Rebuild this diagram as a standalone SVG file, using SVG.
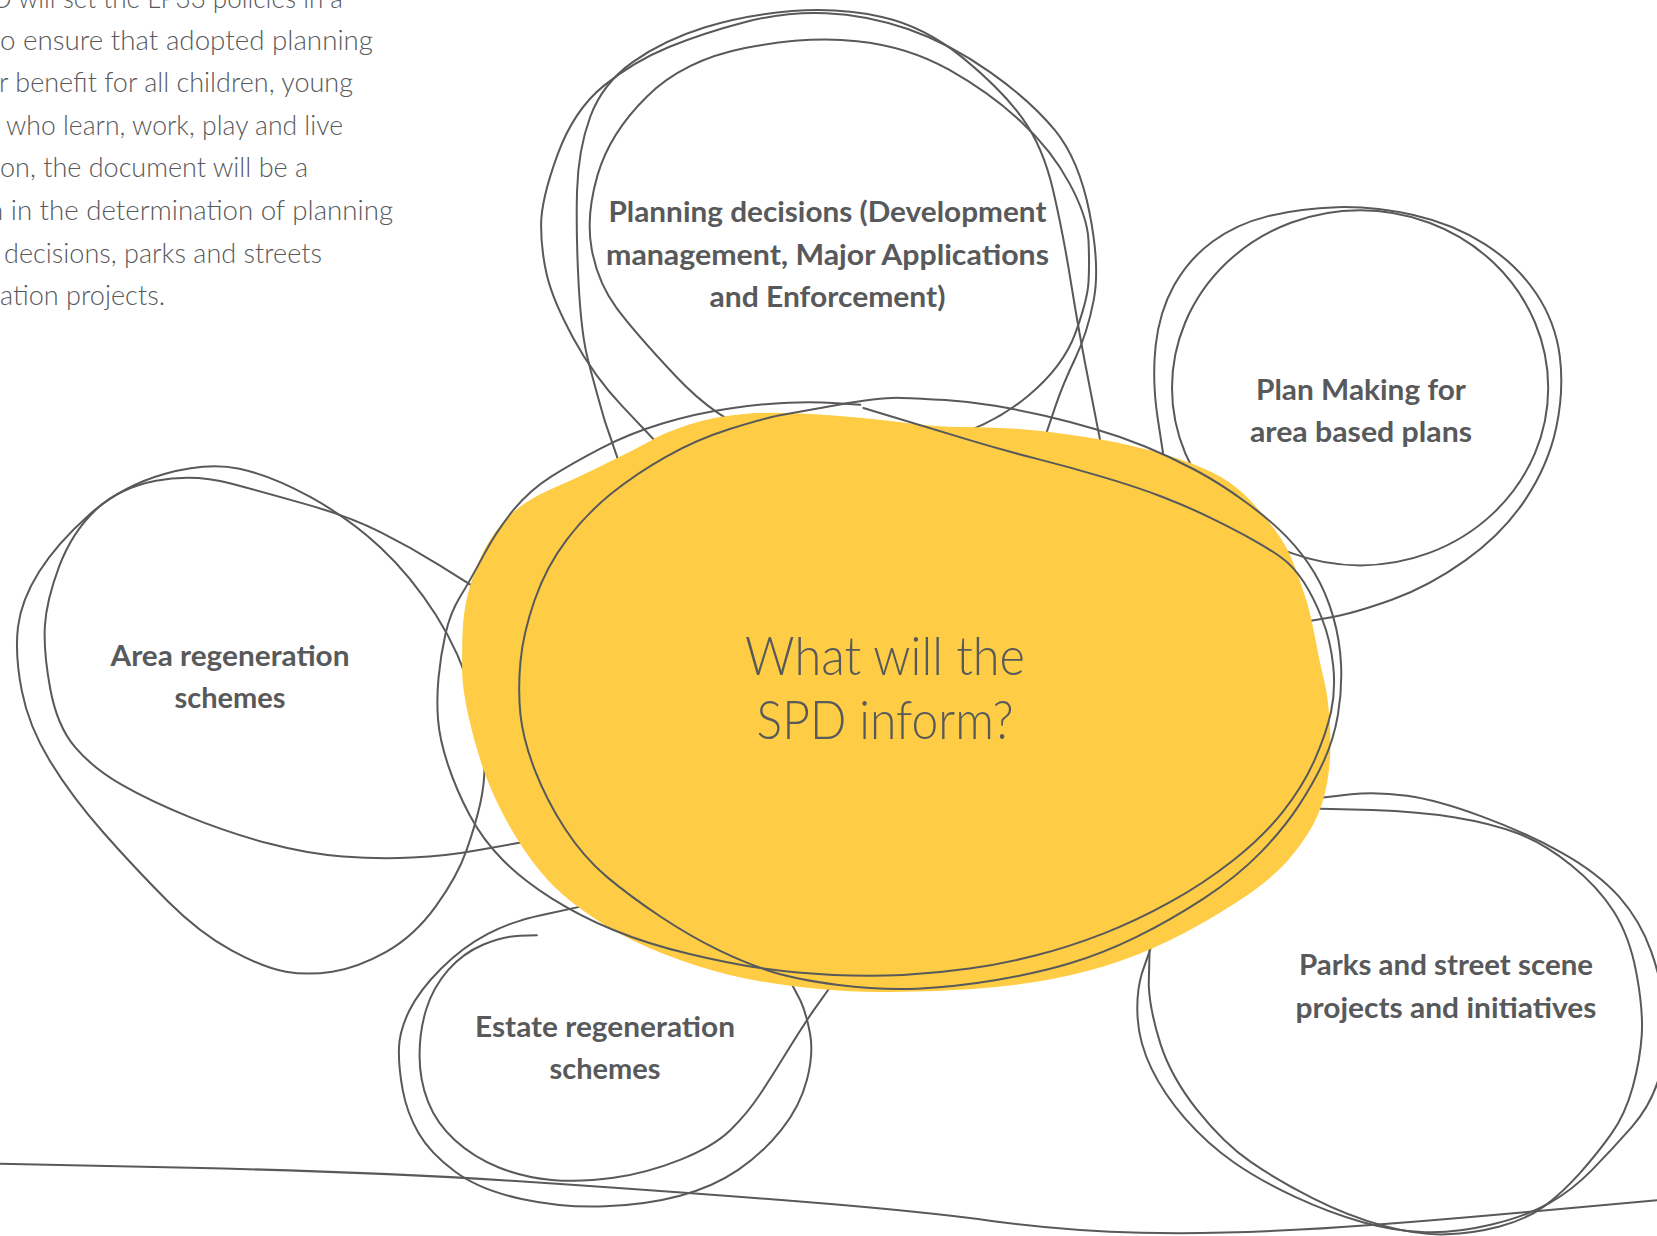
<svg xmlns="http://www.w3.org/2000/svg" width="1657" height="1236" viewBox="0 0 1657 1236">
  <style>
    .ln{fill:none;stroke:#58595b;stroke-width:1.9;stroke-linecap:round;stroke-linejoin:round}
    .lbl{font-family:Lato,"Liberation Sans",sans-serif;font-weight:700;font-size:28px;fill:#58595b;text-anchor:middle}
    .para{font-family:Lato,"Liberation Sans",sans-serif;font-weight:300;font-size:28px;fill:#58595b}
    .hub{font-family:Lato,"Liberation Sans",sans-serif;font-weight:300;font-size:53px;fill:#58595b;text-anchor:middle}
  </style>
  <rect width="1657" height="1236" fill="#ffffff"/>

  <!-- intro paragraph, clipped at the page edge -->
  <g id="intro-text">
    <text class="para" x="-8" y="8" textLength="351" lengthAdjust="spacingAndGlyphs">D will set the LP33 policies in a</text>
    <text class="para" x="0" y="50" textLength="373" lengthAdjust="spacingAndGlyphs">o ensure that adopted planning</text>
    <text class="para" x="-1" y="92" textLength="354" lengthAdjust="spacingAndGlyphs">r benefit for all children, young</text>
    <text class="para" x="6" y="135" textLength="337" lengthAdjust="spacingAndGlyphs">who learn, work, play and live</text>
    <text class="para" x="0" y="177" textLength="308" lengthAdjust="spacingAndGlyphs">on, the document will be a</text>
    <text class="para" x="-12" y="220" textLength="405" lengthAdjust="spacingAndGlyphs">n in the determination of planning</text>
    <text class="para" x="4" y="263" textLength="318" lengthAdjust="spacingAndGlyphs">decisions, parks and streets</text>
    <text class="para" x="0" y="305" textLength="165" lengthAdjust="spacingAndGlyphs">ation projects.</text>
  </g>

  <!-- top bubble -->
  <g id="node-planning">
    <g transform="scale(1.0568)">
      <path class="ln" d="M719,411 Q678,397 639.5,356 Q601,315 583.5,291.5 Q566,268 560,236.5 Q554,205 565.5,165.5 Q577,126 612,91.5 Q647,57 705,45.5 Q763,34 811,39 Q859,44 898,66 Q937,88 966,115 Q995,142 1012,173.5 Q1029,205 1030,227.5 Q1031,250 1030,267 Q1029,284 1017.5,315.5 Q1006,347 973,374.5 Q940,402 895,415 Q850,428 805,426.5 Q760,425 719,411 Z"/>
      <path class="ln" d="M630,428 L589,384.5 Q562,356 542.5,320 Q523,284 517.5,260.5 Q512,237 512,213 Q512,189 527.5,146.5 Q543,104 571.5,81 Q600,58 633,44.5 Q666,31 704.5,21 Q743,11 781.5,12.5 Q820,14 859,27.5 Q898,41 936.5,68 Q975,95 998,123 Q1021,151 1031,201.5 Q1041,252 1035,283.5 Q1029,315 1017.5,339 Q1006,363 998.5,385 L984,428"/>
      <path class="ln" d="M590,450 L572.5,399 Q562,363 556,339 Q550,315 547.5,268 Q545,221 546,181.5 Q547,142 558.5,110.5 Q570,79 599,58.5 Q628,38 666.5,26 Q705,14 749.5,10.5 Q794,7 834.5,16 Q875,25 911.5,55 Q948,85 967.5,112 Q987,139 996.5,180 Q1006,221 1013.5,268 Q1021,315 1031,365.5 L1044,432"/>
    </g>
    <text class="lbl" x="827.5" y="222" textLength="438" lengthAdjust="spacingAndGlyphs">Planning decisions (Development</text>
    <text class="lbl" x="827.5" y="265" textLength="443" lengthAdjust="spacingAndGlyphs">management, Major Applications</text>
    <text class="lbl" x="827.5" y="307" textLength="236" lengthAdjust="spacingAndGlyphs">and Enforcement)</text>
  </g>

  <!-- right bubble -->
  <g id="node-plan-making">
    <g transform="scale(1.0568)">
      <ellipse class="ln" cx="1287" cy="367" rx="178" ry="168"/>
      <path class="ln" d="M1103,445 L1095.5,396 Q1090,360 1093.5,327.5 Q1097,295 1111,270 Q1125,245 1147.5,228.5 Q1170,212 1200,204.5 Q1230,197 1265,196 Q1300,195 1337.5,203.5 Q1375,212 1405,231 Q1435,250 1453.5,277.5 Q1472,305 1476,337.5 Q1480,370 1472.5,405 Q1465,440 1443.5,472.5 Q1422,505 1387,530 Q1352,555 1317,567.5 Q1282,580 1260,584 L1225,590"/>
    </g>
    <text class="lbl" x="1361" y="400" textLength="210" lengthAdjust="spacingAndGlyphs">Plan Making for</text>
    <text class="lbl" x="1361" y="441.5" textLength="222" lengthAdjust="spacingAndGlyphs">area based plans</text>
  </g>

  <!-- left bubble -->
  <g id="node-area">
    <g transform="scale(1.0568)">
      <path class="ln" d="M456,560 L416,535 Q389,518 360,503.5 Q331,489 292.5,478 Q254,467 218.5,457.5 Q183,448 147.5,455 Q112,462 90,483 Q68,504 56,536 Q44,568 42.5,592 Q41,616 47.5,651.5 Q54,687 71,707 Q88,727 115,742.5 Q142,758 179,773 Q216,788 253.5,798 Q291,808 324.5,810.5 Q358,813 390,811.5 Q422,810 454.5,804 L500,796"/>
      <path class="ln" d="M155.5,448.5 Q196,437 226.5,443.5 Q257,450 294,470.5 Q331,491 360,518 Q389,545 412.5,582 Q436,619 447,659.5 Q458,700 458.5,720 Q459,740 454.5,760 Q450,780 441.5,804.5 Q433,829 412.5,857.5 Q392,886 365,901 Q338,916 314.5,919.5 Q291,923 270.5,919.5 Q250,916 219.5,899.5 Q189,883 158.5,852.5 Q128,822 98,788 Q68,754 47.5,720.5 Q27,687 20.5,653 Q14,619 17,593.5 Q20,568 37,541 Q54,514 84.5,487 Q115,460 155.5,448.5 Z"/>
    </g>
    <text class="lbl" x="230" y="666" textLength="239" lengthAdjust="spacingAndGlyphs">Area regeneration</text>
    <text class="lbl" x="230" y="708" textLength="111" lengthAdjust="spacingAndGlyphs">schemes</text>
  </g>

  <!-- lower-left bubble -->
  <g id="node-estate">
    <g transform="scale(1.0568)">
      <path class="ln" d="M558,856 L514,865.5 Q486,871 462,883.5 Q438,896 417.5,916.5 Q397,937 387.5,956 Q378,975 377.5,992 Q377,1009 381,1031 Q385,1053 396,1072 Q407,1091 430.5,1108.5 Q454,1126 493.5,1134.5 Q533,1143 572.5,1141.5 Q612,1140 643.5,1131.5 Q675,1123 698.5,1107 Q722,1091 739.5,1069 Q757,1047 763.5,1022 Q770,997 766.5,978 Q763,959 757.5,947 L746,925"/>
      <path class="ln" d="M508,885 L492,885.5 Q476,886 457,894 Q438,902 424,918 Q410,934 403.5,954.5 Q397,975 397,998.5 Q397,1022 405,1042.5 Q413,1063 430.5,1079 Q448,1095 471.5,1104.5 Q495,1114 522,1116.5 Q549,1119 580.5,1114.5 Q612,1110 643.5,1097.5 Q675,1085 691,1069.5 Q707,1054 719.5,1035 Q732,1016 744.5,995.5 Q757,975 769.5,956.5 L792,925"/>
    </g>
    <text class="lbl" x="605" y="1036.5" textLength="260" lengthAdjust="spacingAndGlyphs">Estate regeneration</text>
    <text class="lbl" x="605" y="1079" textLength="111" lengthAdjust="spacingAndGlyphs">schemes</text>
  </g>

  <!-- lower-right bubble -->
  <g id="node-parks">
    <g transform="scale(1.0568)">
      <path class="ln" d="M1240,756 L1278.5,751.5 Q1303,749 1331.5,753 Q1360,757 1402,772.5 Q1444,788 1478,807 Q1512,826 1532,848.5 Q1552,871 1562.5,900.5 Q1573,930 1575.5,960 Q1578,990 1570.5,1017.5 Q1563,1045 1544,1066.5 Q1525,1088 1506.5,1107 Q1488,1126 1466,1138.5 Q1444,1151 1410.5,1159 Q1377,1167 1348.5,1166 Q1320,1165 1289.5,1156.5 Q1259,1148 1225.5,1132.5 Q1192,1117 1167,1099.5 Q1142,1082 1121.5,1058.5 Q1101,1035 1089.5,1011 Q1078,987 1076.5,963.5 Q1075,940 1080.5,921 L1092,888"/>
      <path class="ln" d="M1240,765 L1298.5,766.5 Q1343,768 1377,773.5 Q1411,779 1436,788.5 Q1461,798 1486.5,818.5 Q1512,839 1527,862.5 Q1542,886 1548.5,921 Q1555,956 1553.5,979.5 Q1552,1003 1545,1028.5 Q1538,1054 1525,1072.5 Q1512,1091 1495,1110 Q1478,1129 1461,1141.5 Q1444,1154 1419,1160.5 Q1394,1167 1368.5,1168 Q1343,1169 1309.5,1160 Q1276,1151 1242.5,1134 Q1209,1117 1183.5,1099.5 Q1158,1082 1133,1050.5 Q1108,1019 1098,987.5 Q1088,956 1087,932 L1088,890"/>
    </g>
    <text class="lbl" x="1446" y="975" textLength="294" lengthAdjust="spacingAndGlyphs">Parks and street scene</text>
    <text class="lbl" x="1446" y="1018" textLength="301" lengthAdjust="spacingAndGlyphs">projects and initiatives</text>
  </g>

  <!-- hand-drawn ground line -->
  <g id="ground-line" transform="scale(1.0568)">
    <path class="ln" d="M-5,1101 L180,1105 Q360,1109 502,1118.5 Q644,1128 757,1137 Q870,1146 940,1155.5 Q1010,1165 1080,1166.5 Q1150,1168 1230,1163.5 Q1310,1159 1442.5,1147 L1575,1135"/>
  </g>

  <!-- central yellow blob with its two sketched rings -->
  <g id="node-centre">
    <g transform="scale(1.0568)">
      <path fill="#fecd45" d="M706.5,391.5 Q738,389 785.5,393 Q833,397 859.5,400.5 Q886,404 910,404 Q934,404 957.5,405.5 Q981,407 1012.5,411.5 Q1044,416 1067.5,421 Q1091,426 1115,434 Q1139,442 1154.5,451 Q1170,460 1182.5,473 Q1195,486 1206.5,501.5 Q1218,517 1224,533 Q1230,549 1235,564.5 Q1240,580 1244.5,604 Q1249,628 1253,644 Q1257,660 1258.5,688 Q1260,716 1256,739.5 Q1252,763 1242.5,780.5 Q1233,798 1217.5,815.5 Q1202,833 1170.5,853.5 Q1139,874 1107.5,889.5 Q1076,905 1044,914.5 Q1012,924 980.5,929 Q949,934 917.5,936 Q886,938 854.5,938.5 Q823,939 804,938 Q785,937 753.5,933.5 Q722,930 690.5,922.5 Q659,915 627.5,902.5 Q596,890 572.5,875.5 Q549,861 533,847 Q517,833 503,814 Q489,795 476.5,771.5 Q464,748 456,724 Q448,700 443,676.5 Q438,653 437.5,640.5 Q437,628 437.5,604 Q438,580 443,561 Q448,542 456,525 Q464,508 475,495.5 Q486,483 498.5,475 Q511,467 526.5,460.5 Q542,454 562.5,444 Q583,434 596,427.5 Q609,421 618.5,415.5 Q628,410 651.5,402 Q675,394 706.5,391.5 Z"/>
      <path class="ln" d="M814,383 L792,381.5 Q770,380 746,381 Q722,382 690.5,386.5 Q659,391 627.5,400.5 Q596,410 569,424 Q542,438 521.5,451 Q501,464 485.5,483 Q470,502 457.5,525.5 Q445,549 435.5,564.5 Q426,580 421.5,600 Q417,620 415,641 Q413,662 414.5,681 Q416,700 424,724 Q432,748 444.5,771.5 Q457,795 476,814 Q495,833 522,850 Q549,867 580.5,880 Q612,893 651.5,902.5 Q691,912 722.5,916.5 Q754,921 788.5,922.5 Q823,924 854.5,922.5 Q886,921 917.5,916.5 Q949,912 980.5,904 Q1012,896 1044,883.5 Q1076,871 1107.5,853.5 Q1139,836 1167,814 Q1195,792 1214,768 Q1233,744 1244,719 Q1255,694 1259.5,673.5 Q1264,653 1261.5,629.5 Q1259,606 1251,585.5 Q1243,565 1233.5,550.5 Q1224,536 1213,528 Q1202,520 1186,511 Q1170,502 1146.5,490.5 Q1123,479 1099.5,470 Q1076,461 1044,451.5 Q1012,442 980.5,434 Q949,426 917.5,416.5 Q886,407 854.5,397.5 L817,386"/>
      <path class="ln" d="M852,376.5 Q833,376 793.5,383 Q754,390 738,393 Q722,396 690.5,406 Q659,416 630.5,432 Q602,448 578.5,467 Q555,486 536,511 Q517,536 506,567.5 Q495,599 492.5,626 Q490,653 492.5,676.5 Q495,700 506,728.5 Q517,757 534.5,784 Q552,811 574,829.5 Q596,848 624.5,867 Q653,886 680,899 Q707,912 730.5,919.5 Q754,927 793.5,932 Q833,937 867.5,935.5 Q902,934 941.5,927.5 Q981,921 1012.5,911.5 Q1044,902 1075.5,886.5 Q1107,871 1138.5,850.5 Q1170,830 1192,807.5 Q1214,785 1228.5,763 Q1243,741 1252.5,720.5 Q1262,700 1266,676.5 Q1270,653 1269,629.5 Q1268,606 1261.5,583.5 Q1255,561 1244,542.5 Q1233,524 1217.5,508 Q1202,492 1178,474.5 Q1154,457 1130.5,444.5 Q1107,432 1083.5,422.5 Q1060,413 1036,406 Q1012,399 988.5,393.5 Q965,388 941.5,384 Q918,380 894.5,378.5 Q871,377 852,376.5 Z"/>
    </g>
    <text class="hub" x="885" y="675" textLength="280" lengthAdjust="spacingAndGlyphs">What will the</text>
    <text class="hub" x="885" y="739" textLength="257" lengthAdjust="spacingAndGlyphs">SPD inform?</text>
  </g>
</svg>
